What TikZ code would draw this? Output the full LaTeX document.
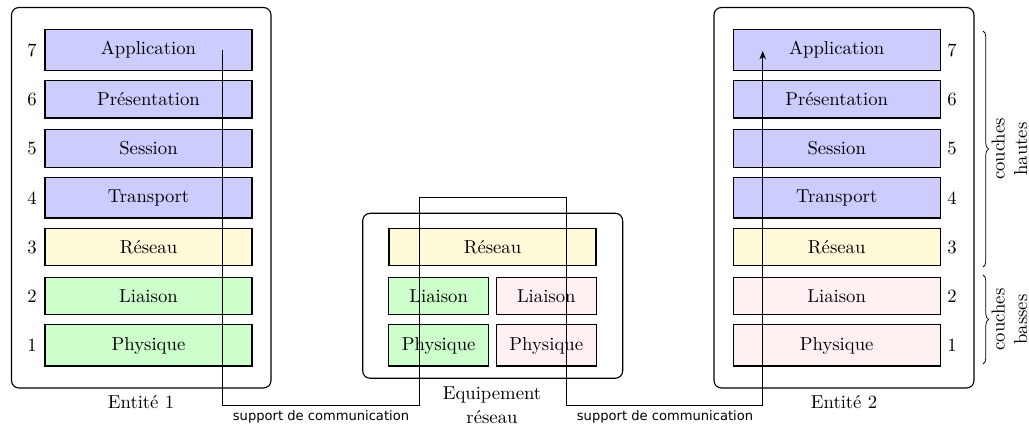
\documentclass[tikz,border=0pt]{standalone}
\usepackage{fontspec}
\newfontfamily\supfont{DejaVu Sans}
\usetikzlibrary{arrows.meta,decorations.pathreplacing}
\definecolor{cblue}{RGB}{204,204,255}
\definecolor{cyel}{RGB}{255,250,215}
\definecolor{cgreen}{RGB}{204,255,204}
\definecolor{cpink}{RGB}{255,241,241}
\begin{document}
\begin{tikzpicture}[x=0.5348pt,y=-0.5348pt,
  layerbox/.style={draw,semithick,minimum width=207*0.5348pt,inner ysep=6.5pt,inner xsep=0pt},
  halfbox/.style={layerbox,minimum width=100*0.5348pt},
  entity/.style={draw,semithick,rounded corners=4pt,inner sep=0pt},
  lbl/.style={font=\supfont\fontsize{7}{8}\selectfont},
  brc/.style={decorate,decoration={brace,amplitude=3pt}}]
\useasboundingbox (0,0) rectangle (1029,425);
% outer entities
\node[entity,minimum width=259.5*0.5348pt,minimum height=380.5*0.5348pt] (E1) at (141.25,197.75) {};
\node[entity,minimum width=260*0.5348pt,minimum height=380.5*0.5348pt] (E2) at (844,197.75) {};
\node[entity,minimum width=260*0.5348pt,minimum height=165*0.5348pt] (EQ) at (492.7,295.8) {};
\node (t1) at (141,402) {Entité 1};
\node (t2) at (844,402) {Entité 2};
\node[align=center] (teq) at (492,405) {Equipement\\[1pt]réseau};
% left stack
\node[layerbox,fill=cblue] (L7) at (148.5,50) {Application};
\node[layerbox,fill=cblue] (L6) at (148.5,99.25) {Présentation};
\node[layerbox,fill=cblue] (L5) at (148.5,148.5) {Session};
\node[layerbox,fill=cblue] (L4) at (148.5,197.75) {Transport};
\node[layerbox,fill=cyel] (L3) at (148.5,247) {Réseau};
\node[layerbox,fill=cgreen] (L2) at (148.5,296.25) {Liaison};
\node[layerbox,fill=cgreen] (L1) at (148.5,345.5) {Physique};
\foreach \i in {1,...,7} \node (nL\i) at (L\i.center -| 32,0) {\i};
% right stack
\node[layerbox,fill=cblue] (R7) at (836.7,50) {Application};
\node[layerbox,fill=cblue] (R6) at (836.7,99.25) {Présentation};
\node[layerbox,fill=cblue] (R5) at (836.7,148.5) {Session};
\node[layerbox,fill=cblue] (R4) at (836.7,197.75) {Transport};
\node[layerbox,fill=cyel] (R3) at (836.7,247) {Réseau};
\node[layerbox,fill=cpink] (R2) at (836.7,296.25) {Liaison};
\node[layerbox,fill=cpink] (R1) at (836.7,345.5) {Physique};
\foreach \i in {1,...,7} \node (nR\i) at (R\i.center -| 952,0) {\i};
% middle
\node[layerbox,fill=cyel] (M3) at (492.5,247) {Réseau};
\node[halfbox,fill=cgreen] (M2a) at (438.7,296.25) {Liaison};
\node[halfbox,fill=cpink] (M2b) at (546.3,296.25) {Liaison};
\node[halfbox,fill=cgreen] (M1a) at (438.7,345.5) {Physique};
\node[halfbox,fill=cpink] (M1b) at (546.3,345.5) {Physique};
% braces
\draw[brc] (983,31) -- (983,267) coordinate[midway] (bh);
\draw[brc] (983,275) -- (983,364) coordinate[midway] (bb);
\node[rotate=90,align=center] (th) at (1009.5,149) {couches\\hautes};
\node[rotate=90,align=center] (tb) at (1009.5,319.5) {couches\\basses};
% connector
\coordinate (a0) at (222.7,50);
\coordinate (a1) at (222.7,405);
\coordinate (a2) at (419,197.7);
\coordinate (a3) at (566.7,405);
\coordinate (a4) at (762.7,51);
\draw[-{Stealth[length=4.5pt,width=3.5pt]}] (a0) -- (a1) -- (a1 -| a2) -- (a2) -- (a2 -| a3) -- (a3) -- (a3 -| a4) -- (a4);
\node[lbl] (s1) at (321,417) {support de communication};
\node[lbl] (s2) at (665,417) {support de communication};
\end{tikzpicture}
\end{document}
